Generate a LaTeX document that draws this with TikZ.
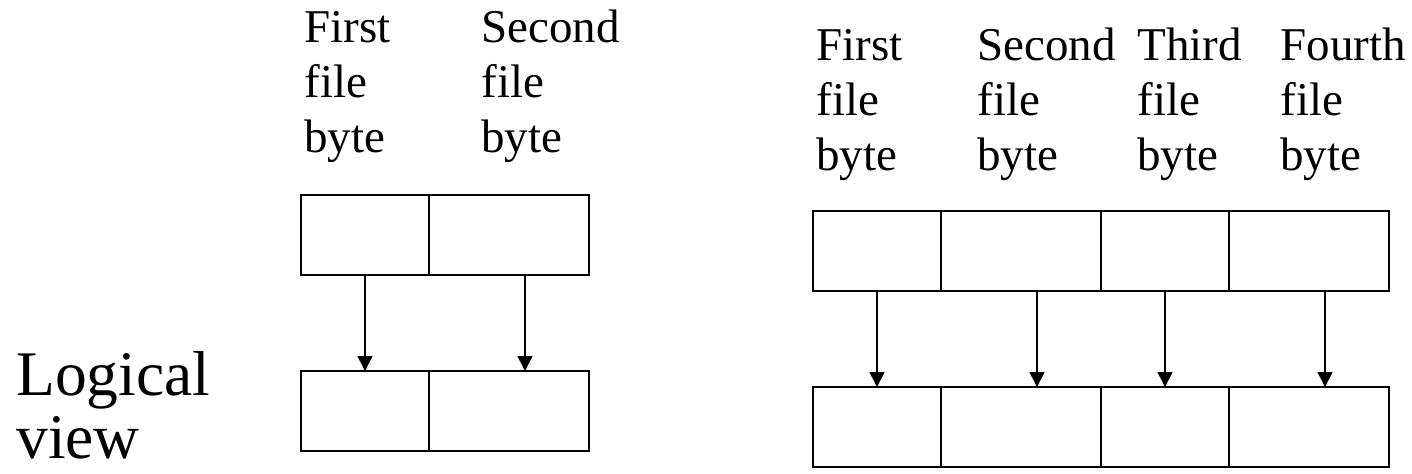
\documentclass[tikz,border=0pt]{standalone}
\usepackage{fontspec}
\setmainfont{Liberation Serif}
\usetikzlibrary{arrows.meta, positioning}

\begin{document}
\begin{tikzpicture}[x=0.5pt, y=-0.5pt,
        cell/.style={draw, line width=1pt, outer sep=0pt, minimum height=40pt},
        narrow/.style={cell, minimum width=64pt},
        wide/.style={cell, minimum width=80pt},
        lbl/.style={anchor=base west, inner sep=0pt, align=left,
            font=\fontsize{23.5pt}{27.5pt}\selectfont},
        arr/.style={-{Triangle[width=7.5pt, length=7.5pt]}, line width=0.8pt}
    ]
    \useasboundingbox (0,0) rectangle (1412,473);

    % left side: two bytes
    \node[narrow, anchor=north west] (ltop1) at (301,195) {};
    \node[wide, right=0pt of ltop1] (ltop2) {};
    \node[narrow, below=48pt of ltop1] (lbot1) {};
    \node[wide, right=0pt of lbot1] (lbot2) {};

    \node[lbl] (lfirst) at (304,152) {First\\file\\byte};
    \node[lbl] (lsecond) at (481,152) {Second\\file\\byte};

    \draw[arr] (ltop1) -- (lbot1);
    \draw[arr] ([xshift=-32pt]ltop2.south east) -- ([xshift=-32pt]lbot2.north east);

    % right side: four bytes
    \node[narrow, anchor=north west] (rtop1) at (813,211) {};
    \node[wide, right=0pt of rtop1] (rtop2) {};
    \node[narrow, right=0pt of rtop2] (rtop3) {};
    \node[wide, right=0pt of rtop3] (rtop4) {};
    \node[narrow, below=48pt of rtop1] (rbot1) {};
    \node[wide, right=0pt of rbot1] (rbot2) {};
    \node[narrow, right=0pt of rbot2] (rbot3) {};
    \node[wide, right=0pt of rbot3] (rbot4) {};

    \node[lbl] (rfirst) at (816,170) {First\\file\\byte};
    \node[lbl] (rsecond) at (977,170) {Second\\file\\byte};
    \node[lbl] (rthird) at (1137,170) {Third\\file\\byte};
    \node[lbl] (rfourth) at (1280,170) {Fourth\\file\\byte};

    \draw[arr] (rtop1) -- (rbot1);
    \draw[arr] ([xshift=-32pt]rtop2.south east) -- ([xshift=-32pt]rbot2.north east);
    \draw[arr] (rtop3) -- (rbot3);
    \draw[arr] ([xshift=-32pt]rtop4.south east) -- ([xshift=-32pt]rbot4.north east);

    \node[lbl, font=\fontsize{31.75pt}{31.5pt}\selectfont] (logical) at (16,458) {Logical\\view};
\end{tikzpicture}
\end{document}
